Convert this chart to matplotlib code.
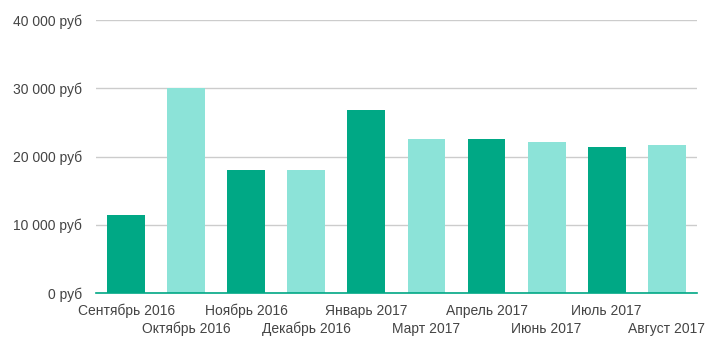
import matplotlib
matplotlib.use('Agg')
import matplotlib.pyplot as plt
import numpy as np

plt.rcParams['font.family'] = ['Liberation Sans', 'DejaVu Sans']

# данные
months = ['Сентябрь 2016', 'Октябрь 2016', 'Ноябрь 2016', 'Декабрь 2016',
          'Январь 2017', 'Март 2017', 'Апрель 2017', 'Июнь 2017',
          'Июль 2017', 'Август 2017']
values = [11500, 30000, 18000, 18000, 26800, 22500, 22500, 22100, 21400, 21700]
yticks = [0, 10000, 20000, 30000, 40000]

dark = '#00a885'
light = '#8ce3d8'
colors = [dark if i % 2 == 0 else light for i in range(len(values))]

fig = plt.figure(figsize=(7.14, 3.54), dpi=100)
ax = fig.add_axes([0.1345, 0.1723, 0.8415, 0.7712])

x = np.arange(len(values))
ax.bar(x, values, width=0.63, color=colors, zorder=2)

ax.set_xlim(-0.5, len(values) - 0.5)
ax.set_ylim(0, 40000)
ax.set_yticks(yticks)
ax.set_yticklabels(['{:,} руб'.format(v).replace(',', ' ') for v in yticks],
                   fontsize=10, color='#444444')
ax.yaxis.grid(True, color='#cccccc', linewidth=1, zorder=0)
ax.tick_params(axis='y', length=0, pad=10)

ax.set_xticks(x)
ax.set_xticklabels([])
ax.tick_params(axis='x', length=0)
for i, m in enumerate(months):
    dy = -18 if i % 2 == 0 else -36
    ax.annotate(m, (i, 0), xycoords=('data', 'axes fraction'),
                xytext=(0, dy), textcoords='offset pixels',
                ha='center', va='center', fontsize=10, color='#444444')

for s in ['top', 'right', 'left']:
    ax.spines[s].set_visible(False)
ax.spines['bottom'].set_color(dark)
ax.spines['bottom'].set_linewidth(1.2)
ax.spines['bottom'].set_zorder(3)

plt.savefig('out.png', dpi=100)
plt.close()
